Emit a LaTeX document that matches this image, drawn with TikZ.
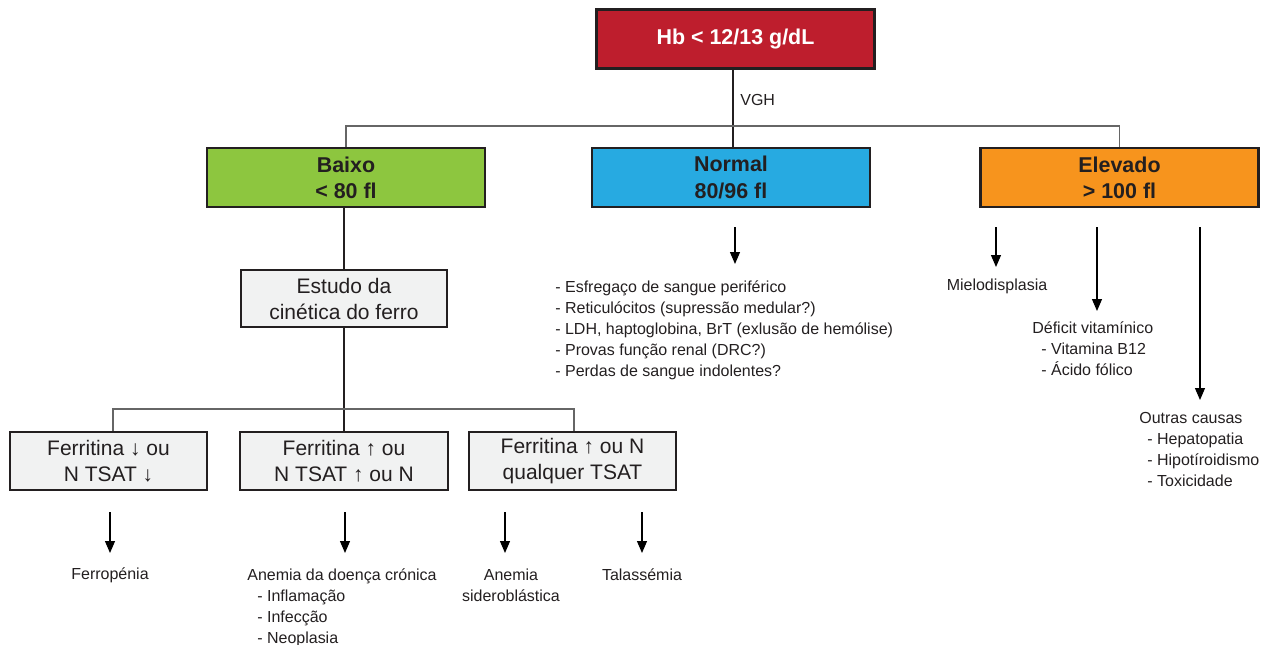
\documentclass[tikz,border=0pt]{standalone}
\usepackage{fontspec}
\setmainfont{Liberation Sans}
\usepackage{tikz}
\usetikzlibrary{arrows.meta}
\definecolor{hbred}{RGB}{190,30,45}
\definecolor{baixogreen}{RGB}{141,198,63}
\definecolor{normalblue}{RGB}{39,170,225}
\definecolor{elevorange}{RGB}{247,148,29}
\definecolor{boxgray}{RGB}{241,242,242}
\definecolor{boxline}{RGB}{35,31,32}
\tikzset{
    box/.style={draw=boxline, line width=1.3pt, align=center, inner sep=0pt, text=boxline},
    headbox/.style={box, font=\bfseries\fontsize{12.2}{14.9}\selectfont, minimum width=5.56cm, minimum height=1.18cm},
    subbox/.style={box, fill=boxgray, font=\fontsize{11.95}{14.8}\selectfont, minimum height=1.16cm},
    txt/.style={font=\fontsize{9.1}{11.95}\selectfont, inner sep=0pt, text=boxline},
    lst/.style={txt, align=left, anchor=north west},
    arr/.style={-{Triangle[width=0.2cm,length=0.24cm]}, line width=0.7pt},
    link/.style={line width=0.8pt, draw=boxline},
    bar/.style={line width=0.8pt, draw=black!60}}

\begin{document}
\begin{tikzpicture}[x=0.02cm, y=-0.02cm]
    \useasboundingbox (0,0) rectangle (1272,645);

    \node[headbox, fill=hbred, text=white] (hb) at (735.5,39) {Hb < 12/13 g/dL};
    \node[headbox, fill=baixogreen] (baixo) at (346,177.5) {Baixo\\< 80 fl};
    \node[headbox, fill=normalblue] (normal) at (731,177.5) {Normal\\80/96 fl};
    \node[headbox, fill=elevorange] (elevado) at (1119.5,177.5) {Elevado\\> 100 fl};

    \node[subbox, minimum width=4.12cm, minimum height=1.14cm] (estudo) at (344,298.5) {Estudo da\\cinética do ferro};
    \node[subbox, minimum width=3.94cm] (fer1) at (108.5,461) {Ferritina ↓ ou\\N TSAT ↓};
    \node[subbox, minimum width=4.16cm] (fer2) at (344,461) {Ferritina ↑ ou\\N TSAT ↑ ou N};
    \node[subbox, minimum width=4.14cm] (fer3) at (572.5,461) {Ferritina ↑ ou N\\qualquer TSAT};

    \node[txt, anchor=west] (vgh) at (740,100) {VGH};

    \node[lst] (exames) at (555,280) {- Esfregaço de sangue periférico\\- Reticulócitos (supressão medular?)\\- LDH, haptoglobina, BrT (exlusão de hemólise)\\- Provas função renal (DRC?)\\- Perdas de sangue indolentes?};
    \node[txt] (mielo) at (997,286) {Mielodisplasia};
    \node[lst] (deficit) at (1032,321) {Déficit vitamínico\\\hspace*{0.18cm}- Vitamina B12\\\hspace*{0.18cm}- Ácido fólico};
    \node[lst] (outras) at (1139,412) {Outras causas\\\hspace*{0.16cm}- Hepatopatia\\\hspace*{0.16cm}- Hipotíroidismo\\\hspace*{0.16cm}- Toxicidade};

    \node[txt] (ferro) at (110,575) {Ferropénia};
    \node[lst] (adc) at (247,568) {Anemia da doença crónica\\\hspace*{0.2cm}- Inflamação\\\hspace*{0.2cm}- Infecção\\\hspace*{0.2cm}- Neoplasia};
    \node[txt, align=center] (sidero) at (511,585.5) {Anemia\\sideroblástica};
    \node[txt] (talass) at (642,575) {Talassémia};

    \coordinate (split) at (733,126);
    \coordinate (split2) at (344,409);
    \draw[link] (hb.south -| split) -- (normal.north -| split);
    \draw[bar] (baixo.north) |- (split) -| (elevado.north);
    \draw[link] (baixo.south -| estudo) -- (estudo.north);
    \draw[link] (estudo) -- (fer2);
    \draw[bar] (fer1.north -| 113,0) |- (split2) -| (fer3.north -| 574,0);

    \coordinate (tipn) at (735,264);
    \coordinate (tipe1) at (996,267);
    \coordinate (tipe2) at (1097,311);
    \coordinate (tipe3) at (1200,400);
    \draw[arr, shorten <=0.38cm] (normal.south -| tipn) -- (tipn);
    \draw[arr, shorten <=0.38cm] (elevado.south -| tipe1) -- (tipe1);
    \draw[arr, shorten <=0.38cm] (elevado.south -| tipe2) -- (tipe2);
    \draw[arr, shorten <=0.38cm] (elevado.south -| tipe3) -- (tipe3);

    \coordinate (tipf1) at (110,553);
    \coordinate (tipf2) at (345,553);
    \coordinate (tipf3) at (505,553);
    \coordinate (tipf4) at (642,553);
    \draw[arr, shorten <=0.42cm] (fer1.south -| tipf1) -- (tipf1);
    \draw[arr, shorten <=0.42cm] (fer2.south -| tipf2) -- (tipf2);
    \draw[arr, shorten <=0.42cm] (fer3.south -| tipf3) -- (tipf3);
    \draw[arr, shorten <=0.42cm] (fer3.south -| tipf4) -- (tipf4);

\end{tikzpicture}
\end{document}
